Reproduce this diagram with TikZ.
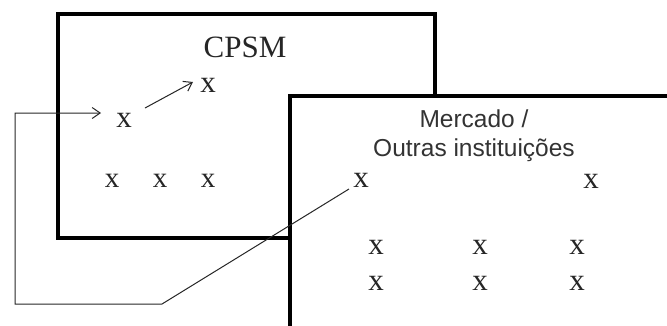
\documentclass[tikz,border=0pt]{standalone}
\usepackage{fontspec}
\setmainfont{Liberation Serif}
\newfontfamily\arialfont{Liberation Sans}
\usetikzlibrary{arrows.meta}
\begin{document}
\begin{tikzpicture}[x=1pt,y=-1pt,
  boxframe/.style={draw=black,line width=3.2pt,fill=white},
  conn/.style={draw=black!85,line width=1pt},
  tip/.style={-{Straight Barb[length=8pt,width=11pt,line width=1pt]}},
  mark x/.style={font=\fontsize{31}{36}\selectfont,inner sep=1pt,text=black!85},
  small x/.style={font=\fontsize{29}{34}\selectfont,inner sep=1pt,text=black!85},
  title/.style={font=\fontsize{31}{36}\selectfont,text=black!85,inner sep=0pt},
  sanstitle/.style={font=\arialfont\fontsize{24.5}{29}\selectfont,text=black!80,align=center,inner sep=0pt}]
\useasboundingbox (0,0) rectangle (667,325);
\begin{scope}
\clip (0,0) rectangle (667,325);
% CPSM box
\path[boxframe] (58,14) rectangle (435,238);
\node[title] (cpsm) at (245,47) {CPSM};
\node[mark x] (x1) at (124,120) {x};
\node[mark x] (x2) at (208,85) {x};
\node[small x] (b1) at (112,181) {x};
\node[small x] (b2) at (160,181) {x};
\node[small x] (b3) at (208,181) {x};
% Mercado box
\path[boxframe] (290,96) rectangle (700,360);
\node[sanstitle] (merc) at (474,136) {Mercado /\\Outras instituições};
\node[mark x] (mx) at (361,180) {x};
\node[mark x] (my) at (591,181) {x};
\node[mark x] (m1) at (376,247) {x};
\node[mark x] (m2) at (480,247) {x};
\node[mark x] (m3) at (577,247) {x};
\node[mark x] (m4) at (376,283) {x};
\node[mark x] (m5) at (480,283) {x};
\node[mark x] (m6) at (577,283) {x};
% connectors
\coordinate (c1) at (162,304);
\coordinate (c2) at (15,304);
\coordinate (c3) at (15,113);
\coordinate (c4) at (101,113);
\draw[conn,tip] ([shift={(-12,9)}]mx.center) -- (c1) -- (c2) -- (c3) -- (c4);
\draw[conn,tip] ([shift={(21,-12)}]x1.center) -- ([shift={(-15,-3)}]x2.center);
\end{scope}
\end{tikzpicture}
\end{document}
